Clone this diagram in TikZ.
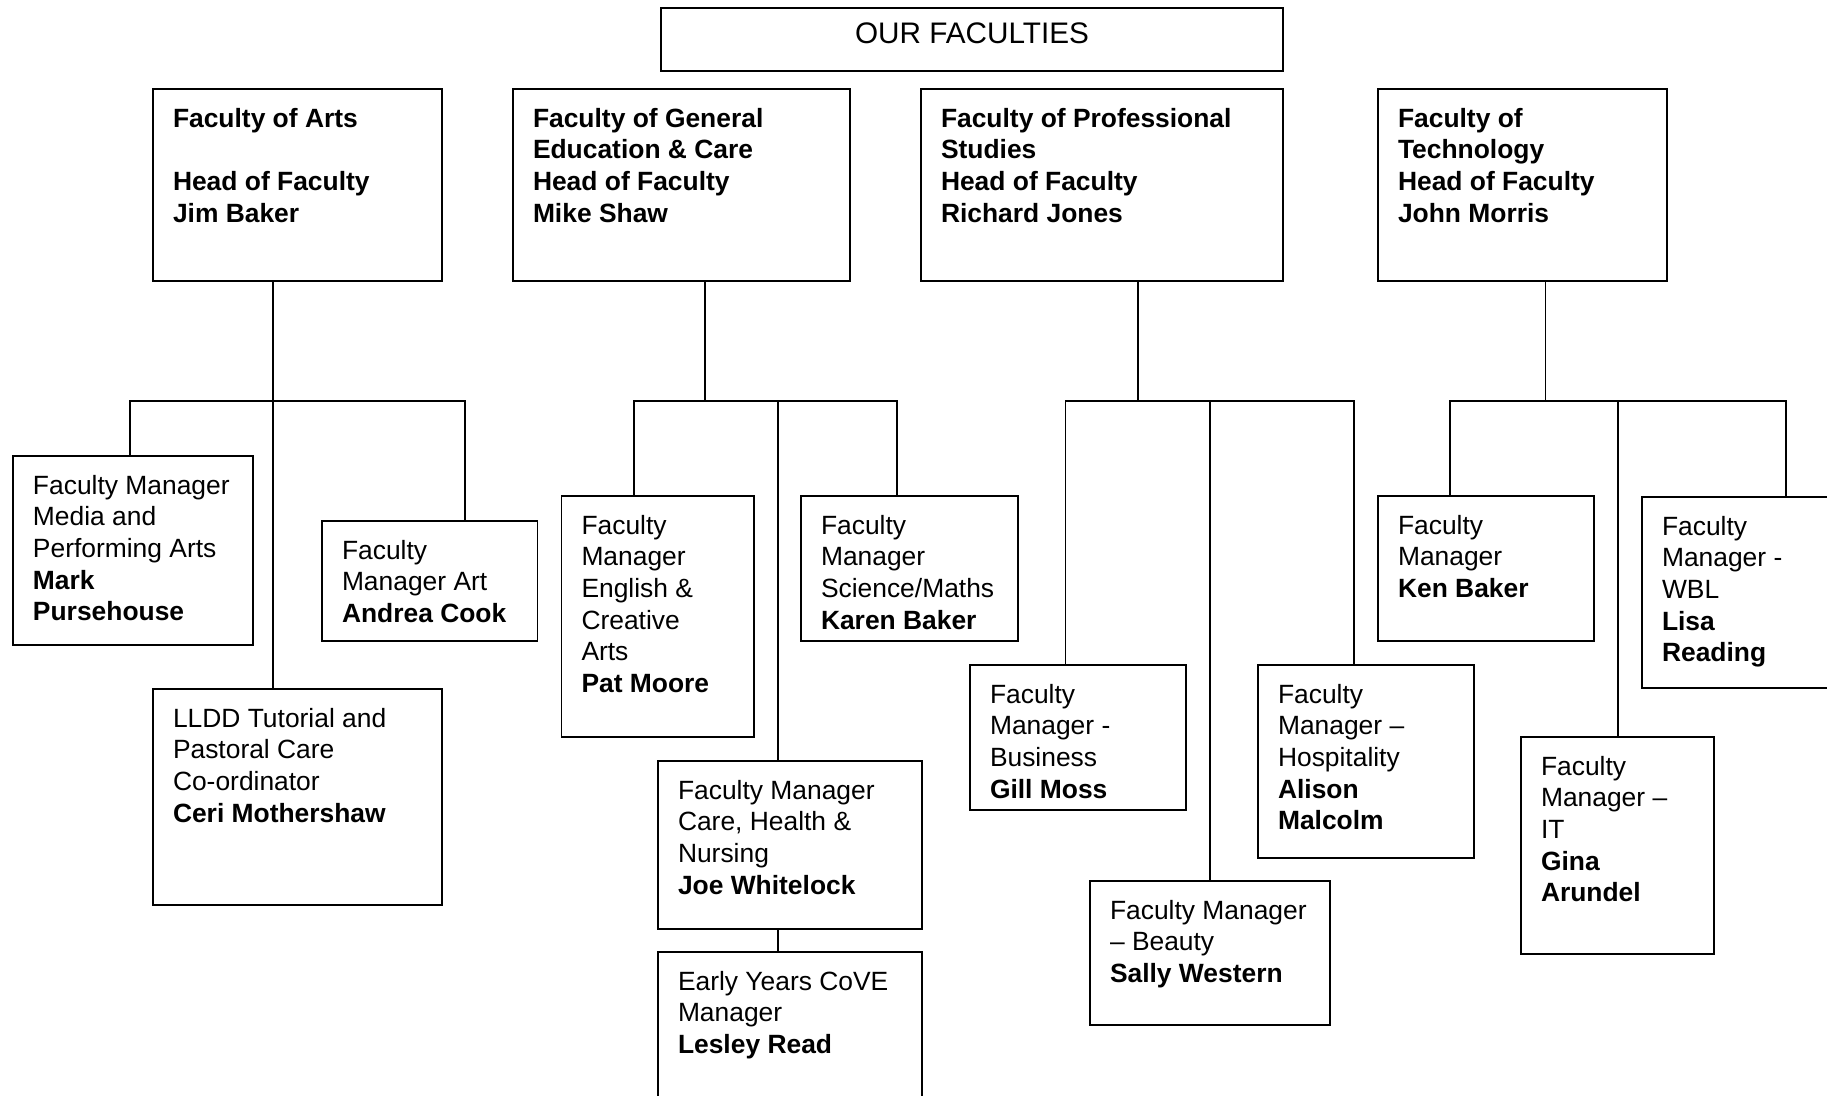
\documentclass[tikz,border=0pt]{standalone}
\usepackage{fontspec}
\setmainfont{Liberation Sans}
\usetikzlibrary{calc}

\newdimen\pxu
\pxu=0.4545pt
\newcommand{\cardtext}[3]{\parbox[t][#2\pxu][t]{#1\pxu}{\vspace*{16\pxu}\hspace*{20\pxu}\begin{tabular}[t]{@{}l@{}}#3\end{tabular}}}
\newcommand{\titletext}[3]{\parbox[t][#2\pxu][t]{#1\pxu}{\vspace*{15\pxu}\centering\fontsize{13.5}{15}\selectfont #3}}

\tikzset{
  orgbox/.style={draw, line width=0.9pt, anchor=north west, inner sep=0pt, outer sep=0pt},
  orgline/.style={line width=0.7pt},
}

\begin{document}
\begin{tikzpicture}[x=0.4545pt, y=-0.4545pt, font=\fontsize{12}{14.4}\selectfont]
\useasboundingbox (0,0) rectangle (1827,1095);
\fill[white] (0,0) rectangle (1827,1095);
\clip (0,0) rectangle (1827,1095);

\node[orgbox] (title) at (661,8) {\titletext{622}{63}{OUR FACULTIES}};

% heads of faculty
\node[orgbox] (arts) at (153,89) {\cardtext{289}{192}{\textbf{Faculty of Arts}\\ \\ \textbf{Head of Faculty}\\ \textbf{Jim Baker}}};
\node[orgbox] (genedu) at (513,89) {\cardtext{337}{192}{\textbf{Faculty of General}\\ \textbf{Education \& Care}\\ \textbf{Head of Faculty}\\ \textbf{Mike Shaw}}};
\node[orgbox] (prof) at (921,89) {\cardtext{361.5}{192}{\textbf{Faculty of Professional}\\ \textbf{Studies}\\ \textbf{Head of Faculty}\\ \textbf{Richard Jones}}};
\node[orgbox] (tech) at (1378,89) {\cardtext{289}{192}{\textbf{Faculty of}\\ \textbf{Technology}\\ \textbf{Head of Faculty}\\ \textbf{John Morris}}};

% faculty managers
\node[orgbox] (media) at (13,456) {\cardtext{240}{189}{Faculty Manager\\ Media and\\ Performing Arts\\ \textbf{Mark}\\ \textbf{Pursehouse}}};
\node[orgbox] (andrea) at (322,521) {\cardtext{215.5}{120}{Faculty\\ Manager Art\\ \textbf{Andrea Cook}}};
\node[orgbox] (lldd) at (153,689) {\cardtext{289}{216}{LLDD Tutorial and\\ Pastoral Care\\ Co-ordinator\\ \textbf{Ceri Mothershaw}}};

\node[orgbox] (english) at (561.5,496) {\cardtext{192.5}{241}{Faculty\\ Manager\\ English \&\\ Creative\\ Arts\\ \textbf{Pat Moore}}};
\node[orgbox] (science) at (801,496) {\cardtext{217}{145}{Faculty\\ Manager\\ Science/Maths\\ \textbf{Karen Baker}}};
\node[orgbox] (care) at (658,761) {\cardtext{264}{168}{Faculty Manager\\ Care, Health \&\\ Nursing\\ \textbf{Joe Whitelock}}};
\node[orgbox] (early) at (658,952) {\cardtext{264}{160}{Early Years CoVE\\ Manager\\ \textbf{Lesley Read}}};

\node[orgbox] (business) at (970,665) {\cardtext{216}{145}{Faculty\\ Manager -\\ Business\\ \textbf{Gill Moss}}};
\node[orgbox] (hosp) at (1258,665) {\cardtext{216}{192.5}{Faculty\\ Manager --\\ Hospitality\\ \textbf{Alison}\\ \textbf{Malcolm}}};
\node[orgbox] (beauty) at (1090,881) {\cardtext{240}{144}{Faculty Manager\\ -- Beauty\\ \textbf{Sally Western}}};

\node[orgbox] (ken) at (1378,496) {\cardtext{216}{145}{Faculty\\ Manager\\ \textbf{Ken Baker}}};
\node[orgbox] (wbl) at (1642,497) {\cardtext{200}{191}{Faculty\\ Manager -\\ WBL\\ \textbf{Lisa}\\ \textbf{Reading}}};
\node[orgbox] (it) at (1521,737) {\cardtext{193}{216.5}{Faculty\\ Manager --\\ IT\\ \textbf{Gina}\\ \textbf{Arundel}}};

% arts
\coordinate (artsbar) at (273,401);
\coordinate (artsL) at (130,401);
\coordinate (artsR) at (465,401);
\draw[orgline] (artsbar |- arts.south) -- (artsbar |- lldd.north);
\draw[orgline] (artsL |- media.north) -- (artsL) -- (artsR) -- (artsR |- andrea.north);

% general education
\coordinate (genbar) at (705,401);
\coordinate (genL) at (634,401);
\coordinate (genM) at (778,401);
\coordinate (genR) at (897,401);
\draw[orgline] (genbar |- genedu.south) -- (genbar);
\draw[orgline] (genL |- english.north) -- (genL) -- (genR) -- (genR |- science.north);
\draw[orgline] (genM) -- (genM |- care.north);
\draw[orgline] (genM |- care.south) -- (genM |- early.north);

% professional studies
\coordinate (profbar) at (1138,401);
\coordinate (profL) at (1065.5,401);
\coordinate (profM) at (1210,401);
\coordinate (profR) at (1354,401);
\draw[orgline] (profbar |- prof.south) -- (profbar);
\draw[orgline] (profL |- business.north) -- (profL) -- (profR) -- (profR |- hosp.north);
\draw[orgline] (profM) -- (profM |- beauty.north);

% technology
\coordinate (techbar) at (1545.6,401);
\coordinate (techL) at (1450,401);
\coordinate (techM) at (1618,401);
\coordinate (techR) at (1786,401);
\draw[orgline] (techbar |- tech.south) -- (techbar);
\draw[orgline] (techL |- ken.north) -- (techL) -- (techR) -- (techR |- wbl.north);
\draw[orgline] (techM) -- (techM |- it.north);
\end{tikzpicture}
\end{document}
